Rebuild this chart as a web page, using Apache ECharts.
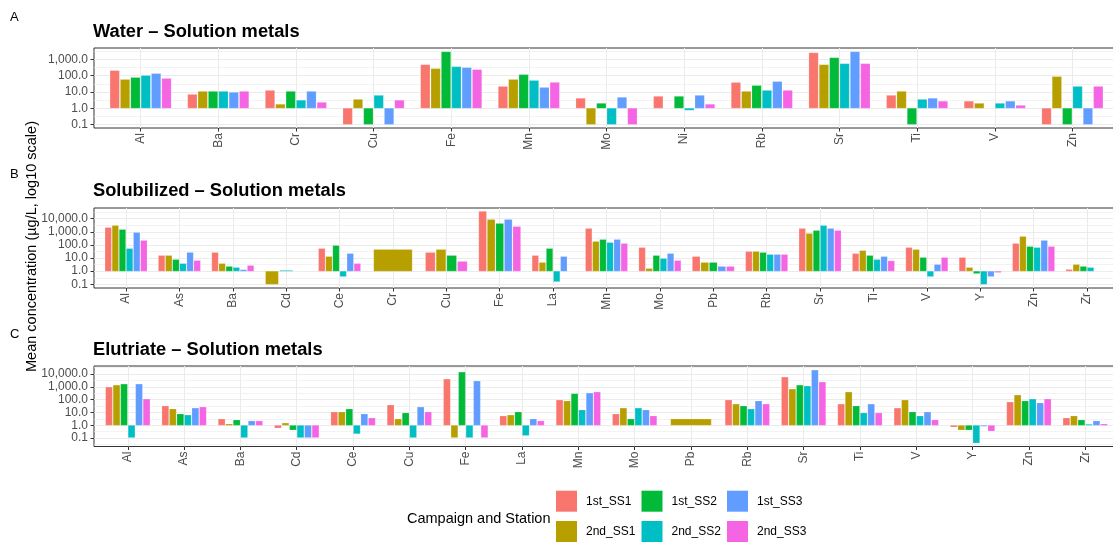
<!DOCTYPE html>
<html><head><meta charset="utf-8">
<script src="https://cdn.jsdelivr.net/npm/echarts@6/dist/echarts.min.js"></script>
<style>html,body{margin:0;padding:0;background:#fff}#c{width:1113px;height:542px}</style>
</head><body><div id="c"></div>
<script>
// ---------- data ----------
const stations = ['1st_SS1','2nd_SS1','1st_SS2','2nd_SS2','1st_SS3','2nd_SS3'];
const stationColors = ['#F8766D','#B79F00','#00BA38','#00BFC4','#619CFF','#F564E3'];
const majorTicksLog = [-1, 0, 1, 2, 3, 4];          // 0.1 ... 10,000
const minorTicksLog = [-1.5, -0.5, 0.5, 1.5, 2.5, 3.5, 4.5];

// A: Water
const waterCats = ['Al','Ba','Cr','Cu','Fe','Mn','Mo','Ni','Rb','Sr','Ti','V','Zn'];
const water_1st_SS1 = [208, 7.1, 12.5, 0.1, 480, 22, 4.1, 5.4, 38.5, 2600, 6.2, 2.7, 0.1];
const water_2nd_SS1 = [59, 10.9, 1.75, 3.5, 275, 59, 0.1, 1, 10.9, 480, 10.9, 2.0, 89];
const water_1st_SS2 = [78, 10.9, 10.9, 0.1, 3000, 118, 2.0, 5.4, 25, 1290, 0.1, 1, 0.1];
const water_2nd_SS2 = [103, 10.9, 3.1, 6.2, 363, 51, 0.1, 0.75, 12.5, 555, 3.5, 2.0, 22];
const water_1st_SS3 = [136, 9.5, 10.9, 0.1, 316, 19, 4.7, 6.2, 44, 3000, 4.1, 2.7, 0.1];
const water_2nd_SS3 = [68, 10.9, 2.3, 3.1, 240, 39, 0.1, 1.75, 12.5, 555, 2.7, 1.5, 22];

// B: Solubilized
const solCats = ['Al','As','Ba','Cd','Ce','Cr','Cu','Fe','La','Mn','Mo','Pb','Rb','Sr','Ti','V','Y','Zn','Zr'];
const sol_1st_SS1 = [2100, 15.6, 26.5, null, 53, null, 26.5, 36000, 15.6, 1780, 63, 13, 31.5, 1780, 22, 63, 11, 128, 1.34];
const sol_2nd_SS1 = [3000, 15.6, 3.8, 0.1, 13, 44.6, 44.6, 8600, 4.6, 182, 1.6, 4.6, 31.5, 740, 37, 44.6, 1.9, 437, 3.2];
const sol_1st_SS2 = [1490, 7.7, 2.3, null, 90, null, 15.6, 4300, 53, 257, 15.6, 4.6, 26.5, 1250, 15.6, 11, 0.66, 75, 2.3];
const sol_2nd_SS2 = [53, 3.8, 1.9, 1.15, 0.39, null, null, null, 0.16, 152, 9.2, null, 18.6, 3000, 7.7, 0.39, 0.1, 63, 1.9];
const sol_1st_SS3 = [880, 26.5, 1.3, null, 22, null, null, 8600, 13, 257, 22, 2.3, 18.6, 1780, 13, 3.2, 0.39, 218, 1];
const sol_2nd_SS3 = [218, 6.5, 2.7, 1, 3.8, null, 5.5, 2500, 1, 128, 6.5, 2.3, 18.6, 1250, 6.1, 11, 0.79, 75, 1];

// C: Elutriate
const eluCats = ['Al','As','Ba','Cd','Ce','Cu','Fe','La','Mn','Mo','Pb','Rb','Sr','Ti','V','Y','Zn','Zr'];
const elu_1st_SS1 = [950, 32, 3.1, 0.62, 10.9, 38, 4000, 5.3, 93, 7.6, null, 93, 5700, 45, 22, 0.74, 65, 3.7];
const elu_2nd_SS1 = [1350, 18.6, 1.27, 1.5, 10.9, 3.1, 0.11, 6.3, 78, 22, 3.1, 45, 665, 390, 93, 0.43, 228, 5.3];
const elu_1st_SS2 = [1630, 7.6, 2.6, 0.43, 18.6, 9.1, 14000, 10.9, 290, 3.1, null, 32, 1350, 32, 10.9, 0.43, 78, 2.6];
const elu_2nd_SS2 = [0.11, 6.3, 0.11, 0.11, 0.22, 0.11, 0.11, 0.16, 15.6, 22, null, 18.6, 1140, 9.1, 5.3, 0.042, 111, 1.2];
const elu_1st_SS3 = [1630, 22, 2.2, 0.11, 7.6, 26.5, 2800, 3.1, 325, 15.6, null, 78, 20000, 45, 10.9, 0.84, 55, 2.2];
const elu_2nd_SS3 = [111, 26.5, 2.2, 0.11, 3.7, 10.9, 0.11, 2.2, 390, 5.3, null, 45, 2340, 9.1, 2.6, 0.36, 111, 1.27];

// ---------- layout ----------
const FONT = '"Liberation Sans", Arial, sans-serif';
const frameLeft = 94, frameWidth = 1025;
const panels = [
  {title: 'Water \u2013 Solution metals', letter: 'A', cats: waterCats,
   values: [water_1st_SS1, water_2nd_SS1, water_1st_SS2, water_2nd_SS2, water_1st_SS3, water_2nd_SS3],
   top: 48, height: 80, yMin: -1.22, yMax: 3.71, titleY: 31.5, letterY: 17},
  {title: 'Solubilized \u2013 Solution metals', letter: 'B', cats: solCats,
   values: [sol_1st_SS1, sol_2nd_SS1, sol_1st_SS2, sol_2nd_SS2, sol_1st_SS3, sol_2nd_SS3],
   top: 208, height: 80, yMin: -1.28, yMax: 4.81, titleY: 191, letterY: 174},
  {title: 'Elutriate \u2013 Solution metals', letter: 'C', cats: eluCats,
   values: [elu_1st_SS1, elu_2nd_SS1, elu_1st_SS2, elu_2nd_SS2, elu_1st_SS3, elu_2nd_SS3],
   top: 366, height: 80.5, yMin: -1.65, yMax: 4.62, titleY: 350, letterY: 334}
];

const grid = [], xAxis = [], yAxis = [], series = [], graphic = [];

function fmtTick(v) {
  const r = Math.round(v);
  if (Math.abs(v - r) > 1e-6) return '';
  return Math.pow(10, r).toLocaleString('en-US', {minimumFractionDigits: 1, maximumFractionDigits: 1});
}

panels.forEach((p, pi) => {
  const n = p.cats.length;
  const bw = frameWidth / (n - 1 + 1.2);
  const frameIdx = pi * 2, dataIdx = pi * 2 + 1;
  const majors = majorTicksLog.filter(v => v >= p.yMin && v <= p.yMax);
  const minors = minorTicksLog.filter(v => v >= p.yMin && v <= p.yMax);

  grid.push({left: frameLeft, width: frameWidth, top: p.top, height: p.height, outerBoundsMode: 'none',
             show: true, borderColor: '#333333', borderWidth: 1, backgroundColor: 'transparent'});
  grid.push({left: frameLeft + 0.6 * bw, width: (n - 1) * bw, top: p.top, height: p.height, outerBoundsMode: 'none'});

  xAxis.push({gridIndex: frameIdx, type: 'value', min: 0, max: 1, show: false});
  xAxis.push({gridIndex: dataIdx, type: 'category', data: p.cats, boundaryGap: false, position: 'bottom',
    axisLine: {show: false, onZero: false},
    axisTick: {show: true, interval: 0, length: 3.5, lineStyle: {color: '#333333', width: 1}},
    axisLabel: {interval: 0, rotate: 90, fontSize: 12, color: '#4D4D4D', margin: 5, fontFamily: FONT},
    splitLine: {show: true, interval: 0, lineStyle: {color: '#EBEBEB', width: 1}}});

  yAxis.push({gridIndex: frameIdx, type: 'value', min: p.yMin, max: p.yMax,
    axisLine: {show: false},
    axisTick: {show: true, customValues: majors, length: 3.5, lineStyle: {color: '#333333', width: 1}},
    axisLabel: {customValues: majors, formatter: fmtTick, fontSize: 12, color: '#4D4D4D', margin: 6, fontFamily: FONT},
    splitLine: {show: false}});
  yAxis.push({gridIndex: dataIdx, type: 'value', min: p.yMin, max: p.yMax, show: false, splitLine: {show: false}});

  // gridlines (horizontal) across the full panel
  series.push({type: 'line', xAxisIndex: frameIdx, yAxisIndex: frameIdx, z: 0, silent: true,
    data: [[0, p.yMin]], showSymbol: false, lineStyle: {opacity: 0},
    markLine: {silent: true, symbol: 'none', label: {show: false}, z: 0,
      lineStyle: {color: '#EBEBEB', type: 'solid', width: 1},
      data: majors.map(v => ({yAxis: v})).concat(minors.map(v => ({yAxis: v, lineStyle: {color: '#EBEBEB', type: 'solid', width: 0.6}})))}});

  // slot positions per category (bars present in each group share the dodge width)
  const counts = p.cats.map((c, ci) => p.values.filter(arr => arr[ci] !== null && arr[ci] !== undefined).length);
  const perSeries = stations.map(() => []);
  p.cats.forEach((c, ci) => {
    let k = 0;
    stations.forEach((s, si) => {
      const v = p.values[si][ci];
      if (v === null || v === undefined) return;
      perSeries[si].push([ci, Math.log10(v), k, counts[ci]]);
      k++;
    });
  });

  stations.forEach((s, si) => {
    const col = stationColors[si];
    series.push({
      name: s, type: 'custom', xAxisIndex: dataIdx, yAxisIndex: dataIdx, z: 10,
      itemStyle: {color: col},
      encode: {x: 0, y: 1},
      data: perSeries[si],
      renderItem: function (params, api) {
        const ci = api.value(0), lv = api.value(1), k = api.value(2), cnt = api.value(3);
        const base = api.coord([ci, 0]);
        const tip = api.coord([ci, lv]);
        const band = api.size([1, 0])[0];
        const w = band * 0.8;
        const slot = w / cnt;
        const x0 = base[0] - w / 2 + slot * k + slot * 0.05;
        return {type: 'rect',
          shape: {x: x0, y: Math.min(base[1], tip[1]), width: slot * 0.9, height: Math.abs(tip[1] - base[1])},
          style: {fill: col, stroke: 'rgba(255,255,255,0.35)', lineWidth: 0.5}};
      }
    });
  });

  graphic.push({type: 'text', x: 93, y: p.titleY,
    style: {text: p.title, font: 'bold 18.3px ' + FONT, fill: '#000', verticalAlign: 'middle', align: 'left'}});
  graphic.push({type: 'text', x: 10, y: p.letterY,
    style: {text: p.letter, font: '13px ' + FONT, fill: '#000', verticalAlign: 'middle', align: 'left'}});
});

graphic.push({type: 'text', x: 32, y: 246.5, rotation: Math.PI / 2,
  style: {text: 'Mean concentration (\u00b5g/L, log10 scale)', font: '14.5px ' + FONT, fill: '#000',
          align: 'center', verticalAlign: 'middle'}});
graphic.push({type: 'text', x: 407, y: 519,
  style: {text: 'Campaign and Station', font: '14.5px ' + FONT, fill: '#000', align: 'left', verticalAlign: 'middle'}});

const legendCols = [[stations[0], stations[1]], [stations[2], stations[3]], [stations[4], stations[5]]];
const legend = legendCols.map((d, i) => ({
  data: d, orient: 'vertical', left: 556 + i * 85.5, top: 490.7, padding: 0,
  itemWidth: 21, itemHeight: 21, itemGap: 9.3, icon: 'rect', selectedMode: false,
  textStyle: {fontSize: 12, color: '#000', fontFamily: FONT, padding: [0, 0, 0, 4]}
}));

const chart = echarts.init(document.getElementById('c'), null, {renderer: 'canvas'});
chart.setOption({animation: false, backgroundColor: '#fff', textStyle: {fontFamily: FONT},
  grid, xAxis, yAxis, series, graphic, legend});
</script></body></html>
